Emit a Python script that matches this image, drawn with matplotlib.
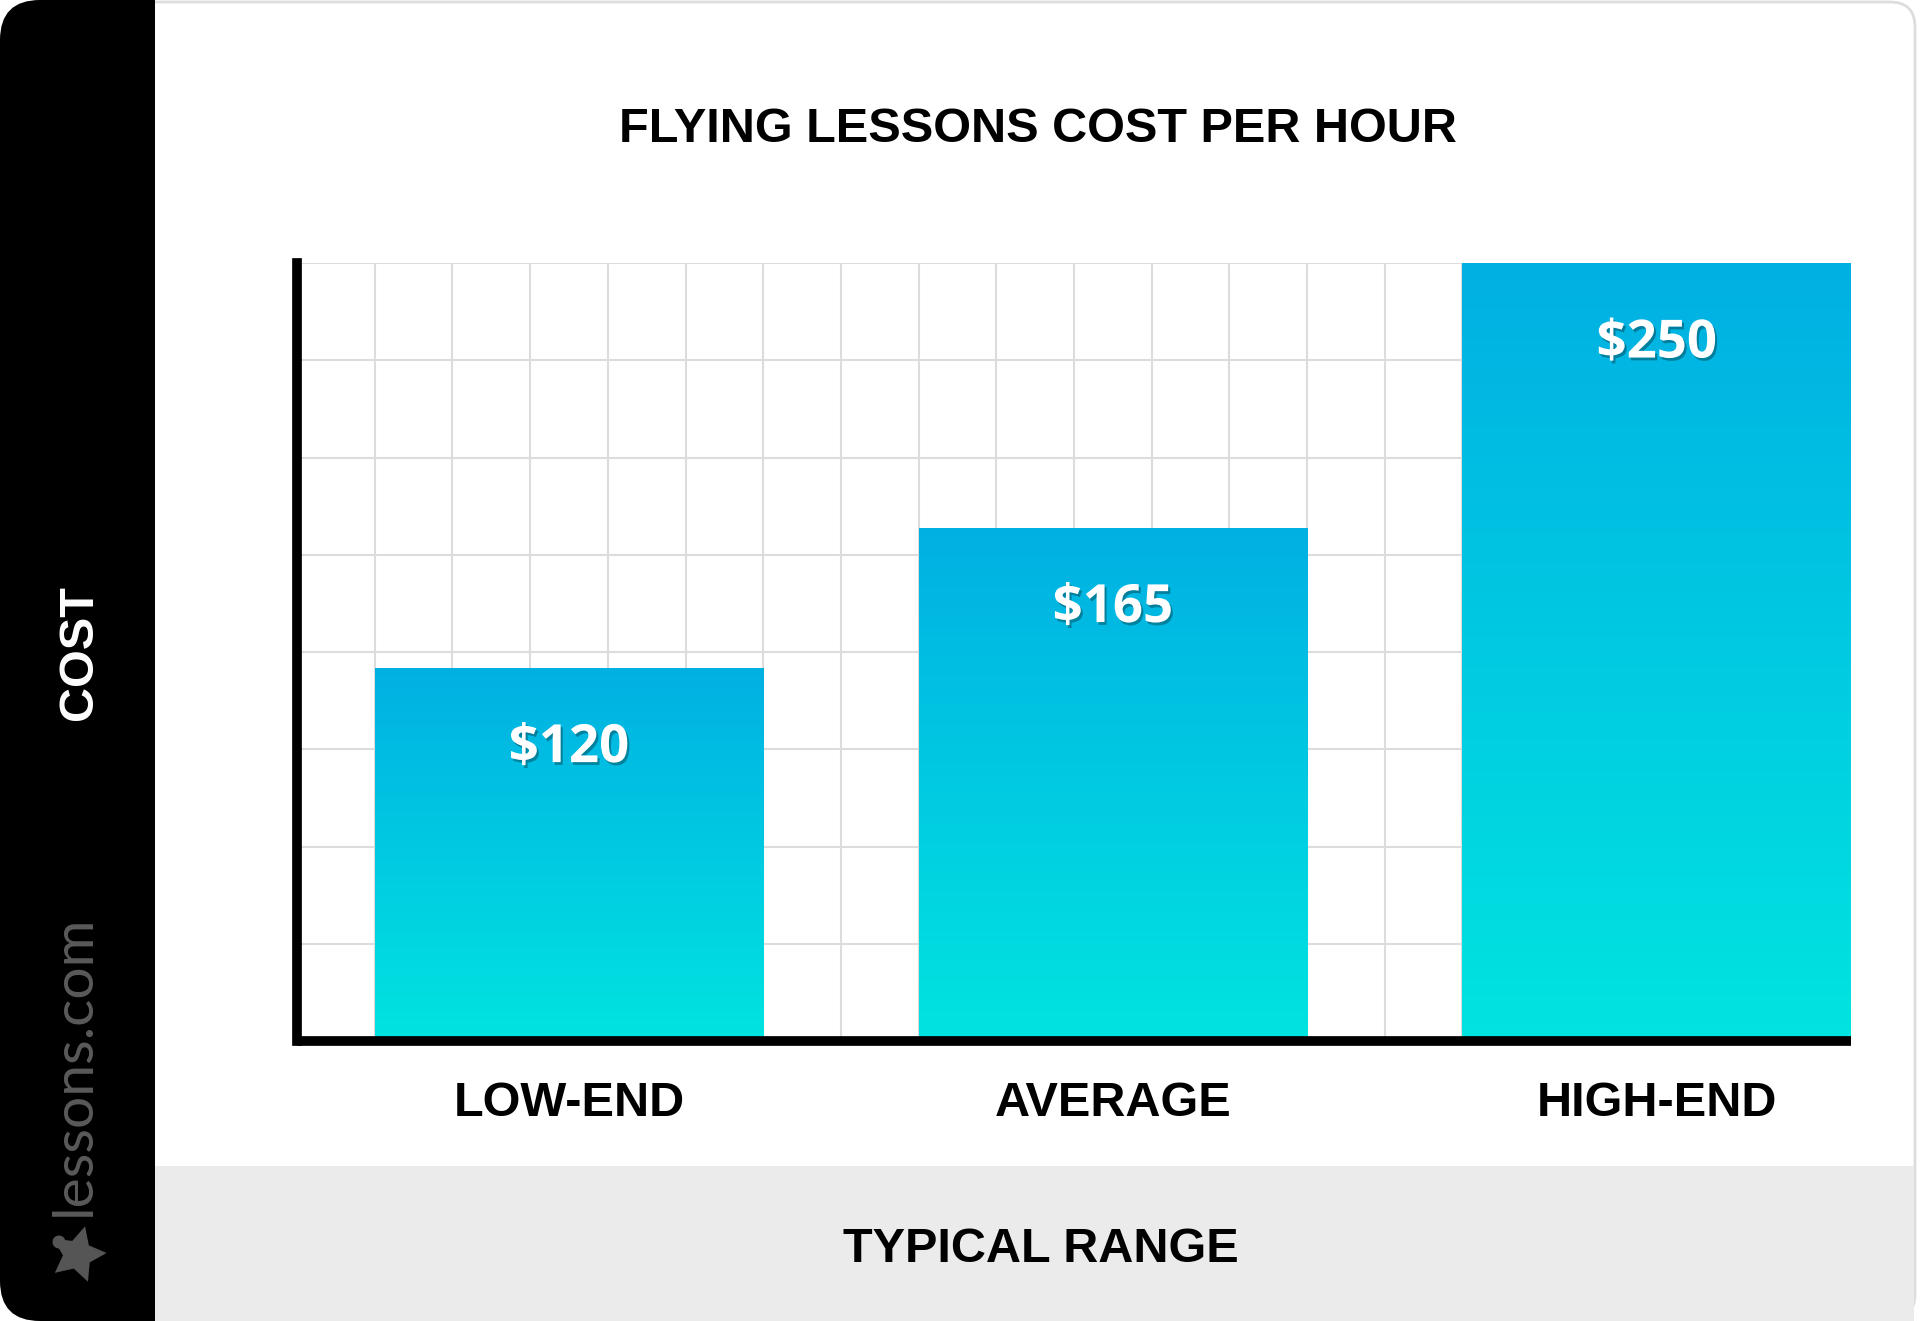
import numpy as np
import matplotlib
matplotlib.use("Agg")
import matplotlib.pyplot as plt
import matplotlib.patheffects as pe
from matplotlib.patches import Rectangle, FancyBboxPatch, Circle
from matplotlib.colors import LinearSegmentedColormap

## Data
categories = ["LOW-END", "AVERAGE", "HIGH-END"]
costs = [120, 165, 250]
cost_labels = ["$120", "$165", "$250"]
title = "FLYING LESSONS COST PER HOUR"
x_title = "TYPICAL RANGE"
y_title = "COST"

## Layout (grid is 20 columns x 8 rows, bars span 5 columns each)
bar_pos = np.array([3.5, 10.5, 17.5])
bar_width = 5
top_col = "#00b0e3"
bottom_col = "#00e4e0"

fig = plt.figure(figsize=(19.2, 13.21), dpi=100)

# background pieces, drawn in pixel coordinates (y measured from the top)
bg = fig.add_axes([0, 0, 1, 1], zorder=0)
bg.set_xlim(0, 1920)
bg.set_ylim(1321, 0)
bg.axis("off")
# white card with a thin grey frame
bg.add_patch(FancyBboxPatch((100, 2), 1815, 1317, boxstyle="round,pad=0,rounding_size=25",
                            fc="white", ec="#dddddd", lw=2))
bg.add_patch(Rectangle((155, 1166), 1759, 155, fc="#ebebeb", ec="none"))
# black side panel, rounded on the left only
bg.add_patch(FancyBboxPatch((0, 0), 155, 1321, boxstyle="round,pad=0,rounding_size=40",
                            fc="black", ec="none"))
bg.add_patch(Rectangle((100, 0), 55, 1321, fc="black", ec="none"))
# lessons.com logo
bg.plot(77, 1254, marker=(5, 1, -15), ms=42, color="#555555", mec="none")
bg.add_patch(Circle((59, 1242), 6.5, fc="#555555", ec="none"))

ax = fig.add_axes([297/1920, 1-1041/1321, (1851-297)/1920, (1041-263)/1321], zorder=1)
ax.set_facecolor("none")

bars = ax.bar(bar_pos, costs, width=bar_width, color="none", zorder=2)
grad = np.linspace(0, 1, 256).reshape(-1, 1)
cmap = LinearSegmentedColormap.from_list("bar", [bottom_col, top_col])
for b in bars:
    x0, y0, w, h = b.get_x(), b.get_y(), b.get_width(), b.get_height()
    im = ax.imshow(grad, cmap=cmap, extent=[x0, x0+w, y0, y0+h], origin="lower",
                   aspect="auto", zorder=2)
    im.set_clip_path(b)

shadow = [pe.withSimplePatchShadow(offset=(1.5, -2), shadow_rgbFace="black", alpha=0.3)]
for xp, v, lab in zip(bar_pos, costs, cost_labels):
    ax.annotate(lab, (xp, v), xytext=(0, -58), textcoords="offset points",
                ha="center", va="center", color="white", fontsize=38,
                fontweight="bold", family="Open Sans", path_effects=shadow, zorder=4)

ax.set_xlim(0, 20)
ax.set_ylim(0, 250)
ax.set_xticks(np.arange(0, 21))
ax.set_yticks(np.linspace(0, 250, 9))
ax.set_xticklabels([])
ax.set_yticklabels([])
ax.grid(color="#dcdcdc", lw=1.5, zorder=0)
ax.set_axisbelow(True)
ax.set_xticks(bar_pos, minor=True)
ax.set_xticklabels(categories, minor=True, fontsize=35, fontweight="bold",
                   family="Liberation Sans")
ax.tick_params(which="both", length=0)
ax.tick_params(which="minor", pad=29)

for s in ["top", "right"]:
    ax.spines[s].set_visible(False)
for s in ["left", "bottom"]:
    ax.spines[s].set_linewidth(7)
    ax.spines[s].set_zorder(5)
ax.spines["bottom"].set_capstyle("butt")

fig.text(1038/1920, 1-129/1321, title, ha="center", va="center", fontsize=35,
         fontweight="bold", family="Liberation Sans")
fig.text(1041/1920, 1-1249/1321, x_title, ha="center", va="center", fontsize=35,
         fontweight="bold", family="Liberation Sans")
fig.text(80/1920, 1-653/1321, y_title, ha="center", va="center", rotation=90,
         fontsize=35, fontweight="bold", color="white", family="Liberation Sans")
fig.text(74/1920, 1-1065/1321, "lessons.com", ha="center", va="center", rotation=90,
         fontsize=41, color="#5a5a5a", family="Lato")

fig.savefig("out.png", dpi=100)
